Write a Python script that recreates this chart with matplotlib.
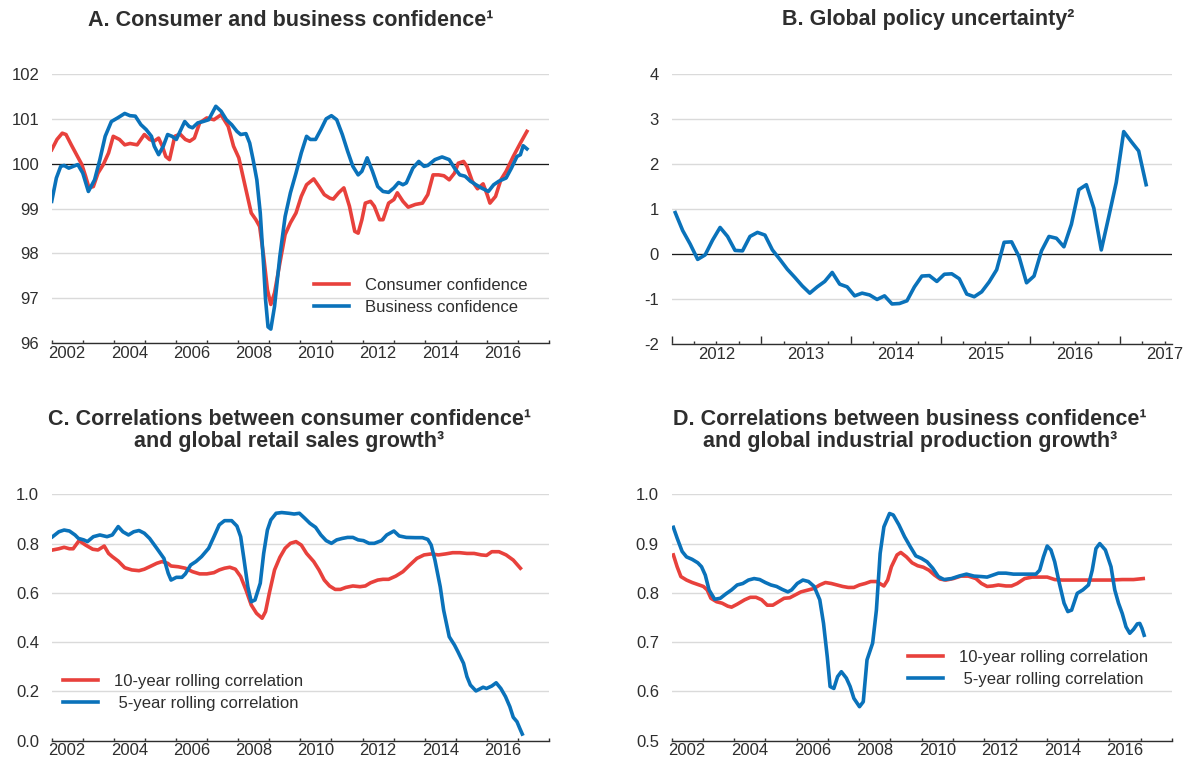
import matplotlib
matplotlib.use("Agg")
import matplotlib.pyplot as plt

plt.rcParams["font.family"] = ["Liberation Sans", "DejaVu Sans"]

RED = "#e8413c"
BLUE = "#0a72ba"
INK = "#2e2e2e"
GRID = "#dadada"

# Panel A: confidence indices (long-term average = 100)
consumer_x = [2002.00, 2002.17, 2002.34, 2002.46, 2002.63, 2002.80, 2002.97, 2003.09, 2003.20, 2003.34,
              2003.49, 2003.66, 2003.83, 2003.98, 2004.18, 2004.35, 2004.52, 2004.75, 2004.87, 2004.98,
              2005.15, 2005.29, 2005.44, 2005.56, 2005.67, 2005.79, 2005.96, 2006.13, 2006.30, 2006.44,
              2006.59, 2006.76, 2006.99, 2007.22, 2007.45, 2007.68, 2007.85, 2008.02, 2008.25, 2008.42,
              2008.57, 2008.69, 2008.82, 2008.94, 2009.05, 2009.17, 2009.34, 2009.51, 2009.68, 2009.86,
              2010.03, 2010.20, 2010.43, 2010.60, 2010.77, 2010.95, 2011.06, 2011.23, 2011.40, 2011.58,
              2011.75, 2011.86, 2011.98, 2012.09, 2012.26, 2012.38, 2012.55, 2012.66, 2012.84, 2013.01,
              2013.12, 2013.30, 2013.47, 2013.70, 2013.93, 2014.10, 2014.27, 2014.45, 2014.62, 2014.79,
              2014.96, 2015.08, 2015.25, 2015.36, 2015.53, 2015.70, 2015.88, 2016.01, 2016.10, 2016.28,
              2016.45, 2016.62, 2016.85, 2017.08, 2017.29]
consumer_conf = [100.31, 100.54, 100.68, 100.65, 100.42, 100.20, 99.98, 99.72, 99.46, 99.49,
                 99.79, 99.98, 100.24, 100.61, 100.54, 100.42, 100.45, 100.42, 100.54, 100.65,
                 100.54, 100.50, 100.57, 100.39, 100.16, 100.09, 100.61, 100.66, 100.54, 100.50,
                 100.57, 100.91, 101.02, 100.98, 101.09, 100.83, 100.39, 100.13, 99.42, 98.90,
                 98.75, 98.60, 97.93, 97.19, 96.86, 97.12, 97.78, 98.42, 98.68, 98.90,
                 99.27, 99.53, 99.66, 99.49, 99.31, 99.23, 99.21, 99.35, 99.46, 99.05,
                 98.49, 98.45, 98.75, 99.12, 99.16, 99.05, 98.75, 98.75, 99.12, 99.20,
                 99.35, 99.16, 99.03, 99.09, 99.12, 99.31, 99.75, 99.75, 99.73, 99.64,
                 99.79, 100.01, 100.05, 99.94, 99.61, 99.44, 99.55, 99.31, 99.12, 99.27,
                 99.64, 99.83, 100.16, 100.46, 100.72]

business_x = [2002.00, 2002.15, 2002.29, 2002.40, 2002.55, 2002.69, 2002.84, 2003.00, 2003.18, 2003.38,
              2003.55, 2003.72, 2003.92, 2004.12, 2004.35, 2004.52, 2004.69, 2004.87, 2005.04, 2005.21,
              2005.30, 2005.44, 2005.59, 2005.73, 2005.87, 2006.01, 2006.13, 2006.28, 2006.42, 2006.53,
              2006.70, 2006.87, 2007.05, 2007.28, 2007.45, 2007.62, 2007.79, 2007.96, 2008.08, 2008.25,
              2008.37, 2008.48, 2008.60, 2008.71, 2008.82, 2008.88, 2008.96, 2009.05, 2009.17, 2009.34,
              2009.51, 2009.68, 2009.86, 2010.03, 2010.20, 2010.32, 2010.49, 2010.66, 2010.83, 2011.00,
              2011.17, 2011.35, 2011.52, 2011.69, 2011.86, 2011.98, 2012.15, 2012.32, 2012.49, 2012.66,
              2012.84, 2013.01, 2013.16, 2013.30, 2013.41, 2013.62, 2013.81, 2013.98, 2014.10, 2014.33,
              2014.56, 2014.79, 2014.96, 2015.13, 2015.30, 2015.47, 2015.65, 2015.82, 2016.05, 2016.22,
              2016.39, 2016.62, 2016.79, 2016.97, 2017.08, 2017.17, 2017.29]
business_conf = [99.16, 99.68, 99.94, 99.96, 99.90, 99.94, 99.98, 99.79, 99.38, 99.64,
                 100.09, 100.61, 100.94, 101.02, 101.12, 101.07, 101.06, 100.87, 100.76, 100.61,
                 100.39, 100.20, 100.39, 100.65, 100.61, 100.54, 100.72, 100.94, 100.83, 100.80,
                 100.91, 100.94, 100.98, 101.28, 101.17, 100.98, 100.87, 100.72, 100.65, 100.67,
                 100.46, 100.09, 99.64, 98.90, 97.71, 96.97, 96.36, 96.31, 96.82, 97.93,
                 98.82, 99.35, 99.79, 100.24, 100.61, 100.54, 100.54, 100.76, 101.00, 101.07,
                 100.98, 100.65, 100.28, 99.94, 99.75, 99.83, 100.13, 99.83, 99.49, 99.38,
                 99.36, 99.46, 99.58, 99.53, 99.57, 99.90, 100.05, 99.94, 99.96, 100.09,
                 100.15, 100.09, 99.90, 99.75, 99.72, 99.61, 99.53, 99.46, 99.38, 99.53,
                 99.61, 99.68, 99.90, 100.16, 100.20, 100.40, 100.33]

# Panel B: monthly global policy uncertainty, Jan 2012 - Apr 2017
uncertainty_month0 = 2012
uncertainty = [0.92, 0.52, 0.22, -0.12, -0.02, 0.31, 0.59, 0.39, 0.08, 0.07,
               0.39, 0.48, 0.42, 0.09, -0.12, -0.34, -0.52, -0.71, -0.87, -0.73,
               -0.61, -0.41, -0.67, -0.73, -0.93, -0.87, -0.91, -1.01, -0.93, -1.11,
               -1.10, -1.04, -0.73, -0.49, -0.48, -0.61, -0.45, -0.44, -0.55, -0.89,
               -0.95, -0.84, -0.62, -0.35, 0.26, 0.27, -0.06, -0.64, -0.49, 0.07,
               0.39, 0.35, 0.16, 0.66, 1.43, 1.54, 1.02, 0.09, 0.83, 1.59,
               2.72, 2.50, 2.29, 1.54]

# Panel C: consumer confidence vs retail sales growth
retail10_x = [2002.03, 2002.23, 2002.40, 2002.57, 2002.69, 2002.88, 2003.09, 2003.32, 2003.49, 2003.69,
              2003.83, 2003.95, 2004.14, 2004.35, 2004.58, 2004.81, 2004.98, 2005.15, 2005.38, 2005.55,
              2005.73, 2005.84, 2006.07, 2006.30, 2006.53, 2006.76, 2006.99, 2007.22, 2007.39, 2007.56,
              2007.73, 2007.91, 2008.08, 2008.25, 2008.42, 2008.59, 2008.77, 2008.88, 2009.00, 2009.17,
              2009.34, 2009.51, 2009.68, 2009.86, 2010.03, 2010.20, 2010.43, 2010.60, 2010.77, 2010.94,
              2011.12, 2011.29, 2011.46, 2011.69, 2011.92, 2012.09, 2012.26, 2012.49, 2012.66, 2012.84,
              2013.07, 2013.30, 2013.52, 2013.75, 2013.98, 2014.21, 2014.44, 2014.67, 2014.90, 2015.13,
              2015.36, 2015.59, 2015.82, 2015.99, 2016.16, 2016.39, 2016.62, 2016.85, 2017.08]
retail10 = [0.774, 0.779, 0.785, 0.779, 0.779, 0.812, 0.794, 0.777, 0.774, 0.790,
            0.760, 0.747, 0.729, 0.702, 0.693, 0.690, 0.696, 0.706, 0.720, 0.727,
            0.720, 0.709, 0.706, 0.700, 0.686, 0.677, 0.677, 0.682, 0.693, 0.700,
            0.704, 0.696, 0.666, 0.612, 0.551, 0.517, 0.497, 0.524, 0.598, 0.693,
            0.744, 0.781, 0.801, 0.808, 0.794, 0.760, 0.727, 0.693, 0.652, 0.628,
            0.614, 0.614, 0.622, 0.628, 0.625, 0.628, 0.641, 0.652, 0.655, 0.655,
            0.668, 0.686, 0.713, 0.740, 0.754, 0.758, 0.754, 0.758, 0.763, 0.763,
            0.760, 0.760, 0.754, 0.752, 0.767, 0.767, 0.754, 0.733, 0.700]

retail5_x = [2002.03, 2002.23, 2002.40, 2002.57, 2002.75, 2002.86, 2003.03, 2003.15, 2003.34, 2003.55,
             2003.78, 2003.95, 2004.14, 2004.29, 2004.47, 2004.64, 2004.81, 2004.98, 2005.15, 2005.38,
             2005.61, 2005.75, 2005.84, 2006.01, 2006.19, 2006.30, 2006.47, 2006.64, 2006.82, 2007.05,
             2007.22, 2007.39, 2007.56, 2007.79, 2007.96, 2008.08, 2008.19, 2008.31, 2008.42, 2008.54,
             2008.71, 2008.82, 2008.94, 2009.05, 2009.22, 2009.40, 2009.63, 2009.80, 2009.97, 2010.14,
             2010.31, 2010.49, 2010.66, 2010.83, 2011.00, 2011.17, 2011.35, 2011.52, 2011.69, 2011.86,
             2012.03, 2012.21, 2012.38, 2012.61, 2012.78, 2013.01, 2013.18, 2013.41, 2013.70, 2013.93,
             2014.10, 2014.21, 2014.33, 2014.50, 2014.61, 2014.79, 2014.96, 2015.07, 2015.25, 2015.36,
             2015.47, 2015.65, 2015.76, 2015.88, 2015.99, 2016.16, 2016.30, 2016.45, 2016.60, 2016.74,
             2016.85, 2016.97, 2017.06, 2017.14]
retail5 = [0.828, 0.848, 0.855, 0.851, 0.835, 0.821, 0.815, 0.808, 0.828, 0.835,
           0.828, 0.835, 0.869, 0.848, 0.835, 0.848, 0.853, 0.842, 0.821, 0.781,
           0.740, 0.679, 0.652, 0.663, 0.663, 0.677, 0.713, 0.727, 0.747, 0.781,
           0.828, 0.876, 0.893, 0.893, 0.871, 0.828, 0.733, 0.625, 0.564, 0.571,
           0.639, 0.760, 0.855, 0.896, 0.923, 0.926, 0.923, 0.920, 0.923, 0.903,
           0.882, 0.866, 0.835, 0.812, 0.801, 0.815, 0.821, 0.825, 0.825, 0.815,
           0.812, 0.801, 0.801, 0.812, 0.835, 0.851, 0.831, 0.825, 0.824, 0.824,
           0.817, 0.794, 0.733, 0.625, 0.530, 0.422, 0.388, 0.361, 0.314, 0.260,
           0.226, 0.202, 0.209, 0.217, 0.212, 0.222, 0.235, 0.212, 0.179, 0.138,
           0.095, 0.077, 0.050, 0.027]

# Panel D: business confidence vs industrial production growth
indprod10_x = [2002.06, 2002.18, 2002.30, 2002.48, 2002.66, 2002.84, 2003.02, 2003.14, 2003.26, 2003.44,
               2003.62, 2003.80, 2003.92, 2004.10, 2004.34, 2004.52, 2004.70, 2004.88, 2005.06, 2005.24,
               2005.42, 2005.60, 2005.78, 2005.96, 2006.14, 2006.38, 2006.56, 2006.74, 2006.92, 2007.11,
               2007.29, 2007.47, 2007.65, 2007.83, 2008.01, 2008.19, 2008.37, 2008.55, 2008.79, 2008.91,
               2009.03, 2009.21, 2009.33, 2009.51, 2009.69, 2009.87, 2010.05, 2010.23, 2010.41, 2010.59,
               2010.77, 2011.01, 2011.25, 2011.49, 2011.73, 2011.91, 2012.09, 2012.27, 2012.45, 2012.69,
               2012.87, 2013.05, 2013.29, 2013.53, 2013.77, 2014.01, 2014.25, 2014.49, 2014.73, 2014.97,
               2015.33, 2015.69, 2016.05, 2016.41, 2016.77, 2017.08]
indprod10 = [0.877, 0.853, 0.833, 0.826, 0.821, 0.817, 0.813, 0.806, 0.789, 0.782,
             0.779, 0.773, 0.771, 0.777, 0.786, 0.791, 0.791, 0.786, 0.775, 0.775,
             0.782, 0.789, 0.790, 0.796, 0.802, 0.806, 0.809, 0.816, 0.821, 0.819,
             0.816, 0.813, 0.811, 0.811, 0.816, 0.819, 0.823, 0.823, 0.814, 0.826,
             0.853, 0.877, 0.882, 0.873, 0.861, 0.855, 0.852, 0.846, 0.836, 0.828,
             0.826, 0.829, 0.834, 0.834, 0.829, 0.819, 0.813, 0.814, 0.816, 0.814,
             0.814, 0.819, 0.829, 0.832, 0.832, 0.832, 0.827, 0.826, 0.826, 0.826,
             0.826, 0.826, 0.826, 0.827, 0.827, 0.829]

indprod5_x = [2002.06, 2002.18, 2002.34, 2002.48, 2002.66, 2002.84, 2002.96, 2003.08, 2003.20, 2003.38,
              2003.56, 2003.74, 2003.92, 2004.10, 2004.28, 2004.46, 2004.64, 2004.82, 2005.00, 2005.18,
              2005.36, 2005.54, 2005.72, 2005.84, 2006.02, 2006.20, 2006.38, 2006.56, 2006.74, 2006.86,
              2006.98, 2007.07, 2007.19, 2007.31, 2007.43, 2007.59, 2007.71, 2007.83, 2008.01, 2008.13,
              2008.25, 2008.43, 2008.55, 2008.67, 2008.79, 2008.97, 2009.09, 2009.27, 2009.45, 2009.63,
              2009.81, 2009.99, 2010.17, 2010.35, 2010.53, 2010.71, 2010.95, 2011.19, 2011.43, 2011.67,
              2011.91, 2012.09, 2012.27, 2012.45, 2012.69, 2012.93, 2013.17, 2013.41, 2013.65, 2013.77,
              2013.89, 2014.01, 2014.13, 2014.25, 2014.40, 2014.55, 2014.67, 2014.79, 2014.97, 2015.15,
              2015.33, 2015.45, 2015.57, 2015.69, 2015.87, 2016.05, 2016.17, 2016.29, 2016.41, 2016.53,
              2016.65, 2016.77, 2016.89, 2016.97, 2017.04, 2017.11]
indprod5 = [0.933, 0.911, 0.884, 0.873, 0.868, 0.861, 0.853, 0.836, 0.806, 0.787,
            0.789, 0.798, 0.806, 0.816, 0.819, 0.826, 0.829, 0.827, 0.821, 0.816,
            0.813, 0.807, 0.802, 0.806, 0.819, 0.826, 0.823, 0.813, 0.786, 0.738,
            0.670, 0.610, 0.606, 0.630, 0.640, 0.627, 0.610, 0.586, 0.569, 0.579,
            0.664, 0.698, 0.765, 0.880, 0.934, 0.961, 0.958, 0.938, 0.914, 0.894,
            0.875, 0.870, 0.863, 0.850, 0.833, 0.827, 0.829, 0.834, 0.838, 0.834,
            0.833, 0.832, 0.836, 0.840, 0.840, 0.838, 0.838, 0.838, 0.838, 0.846,
            0.873, 0.895, 0.887, 0.863, 0.819, 0.779, 0.762, 0.765, 0.799, 0.806,
            0.816, 0.846, 0.890, 0.900, 0.887, 0.853, 0.806, 0.779, 0.758, 0.731,
            0.718, 0.726, 0.737, 0.738, 0.728, 0.714]

TITLES = [
    "A. Consumer and business confidence¹",
    "B. Global policy uncertainty²",
    "C. Correlations between consumer confidence¹\nand global retail sales growth³",
    "D. Correlations between business confidence¹\nand global industrial production growth³",
]
CORR_LABELS = ["10-year rolling correlation", " 5-year rolling correlation"]


def style_y(ax, ticks, labels, baseline=None):
    for side in ("left", "right", "top"):
        ax.spines[side].set_visible(False)
    ax.spines["bottom"].set_color(INK)
    ax.spines["bottom"].set_linewidth(1.0)
    ax.set_ylim(ticks[0], ticks[-1])
    ax.set_yticks(ticks, labels)
    ax.tick_params(axis="y", length=0, pad=9, labelsize=12, labelcolor=INK)
    ax.grid(axis="y", color=GRID, lw=1.0)
    ax.set_axisbelow(True)
    if baseline is not None:
        ax.axhline(baseline, color="#1a1a1a", lw=0.9, zorder=1.5)


def style_years(ax):
    # ticks on year boundaries, labels centred on every other year
    ax.set_xlim(2002, 2018)
    ax.set_xticks(range(2002, 2019), [])
    ax.set_xticks([y + 0.5 for y in range(2002, 2017, 2)],
                  [str(y) for y in range(2002, 2017, 2)], minor=True)
    ax.tick_params(axis="x", which="major", direction="in", length=2.5, width=1, color=INK)
    ax.tick_params(axis="x", which="minor", length=0, pad=2, labelsize=12, labelcolor=INK)


def add_legend(ax, anchor):
    ax.legend(loc="center left", bbox_to_anchor=anchor, frameon=False, fontsize=12,
              handlelength=2.1, handletextpad=0.95, labelspacing=0.42,
              borderpad=0, borderaxespad=0, labelcolor=INK)


fig = plt.figure(figsize=(11.87, 7.63), dpi=100)
W, H = 1187, 763


def panel(left, top, right, bottom):
    return fig.add_axes([left / W, 1 - bottom / H, (right - left) / W, (bottom - top) / H])


ax_a = panel(51.7, 74, 549, 343)
ax_b = panel(671.5, 74, 1172, 344)
ax_c = panel(51.7, 494.3, 549, 740.7)
ax_d = panel(671.5, 494.3, 1172, 740.7)

# A
ax_a.plot(consumer_x, consumer_conf, color=RED, lw=2.6, label="Consumer confidence", zorder=3)
ax_a.plot(business_x, business_conf, color=BLUE, lw=2.6, label="Business confidence", zorder=3)
style_y(ax_a, list(range(96, 103)), [str(v) for v in range(96, 103)], baseline=100)
style_years(ax_a)
add_legend(ax_a, (0.527, 0.172))

# B
months = [uncertainty_month0 + (i + 0.5) / 12 for i in range(len(uncertainty))]
ax_b.plot(months, uncertainty, color=BLUE, lw=2.6, zorder=3)
style_y(ax_b, list(range(-2, 5)), [str(v) for v in range(-2, 5)], baseline=0)
ax_b.set_xlim(2012, 2017.58)
ax_b.set_xticks(range(2012, 2018), [])
quarters = [2012 + q / 4 for q in range(1, 23) if q % 4 != 0]
ax_b.set_xticks(quarters, [str(int(q)) if q % 1 == 0.5 else "" for q in quarters], minor=True)
ax_b.tick_params(axis="x", which="major", direction="in", length=6, width=1, color=INK)
ax_b.tick_params(axis="x", which="minor", direction="in", length=2.5, width=1, color=INK,
                 pad=2, labelsize=12, labelcolor=INK)

# C
ax_c.plot(retail10_x, retail10, color=RED, lw=2.6, label=CORR_LABELS[0], zorder=3)
ax_c.plot(retail5_x, retail5, color=BLUE, lw=2.6, label=CORR_LABELS[1], zorder=3)
c_ticks = [0.0, 0.2, 0.4, 0.6, 0.8, 1.0]
style_y(ax_c, c_ticks, [f"{v:.1f}" for v in c_ticks])
style_years(ax_c)
add_legend(ax_c, (0.0227, 0.197))

# D
ax_d.plot(indprod10_x, indprod10, color=RED, lw=2.6, label=CORR_LABELS[0], zorder=3)
ax_d.plot(indprod5_x, indprod5, color=BLUE, lw=2.6, label=CORR_LABELS[1], zorder=3)
d_ticks = [0.5, 0.6, 0.7, 0.8, 0.9, 1.0]
style_y(ax_d, d_ticks, [f"{v:.1f}" for v in d_ticks])
style_years(ax_d)
add_legend(ax_d, (0.4725, 0.295))

title_pos = [(291, 20), (928, 20), (289, 430.5), (910, 430.5)]
for text, (x, y) in zip(TITLES, title_pos):
    fig.text(x / W, 1 - y / H, text, ha="center", va="center", fontsize=15.5,
             fontweight="bold", color=INK, linespacing=1.05, multialignment="center")

fig.savefig("out.png", dpi=100)
